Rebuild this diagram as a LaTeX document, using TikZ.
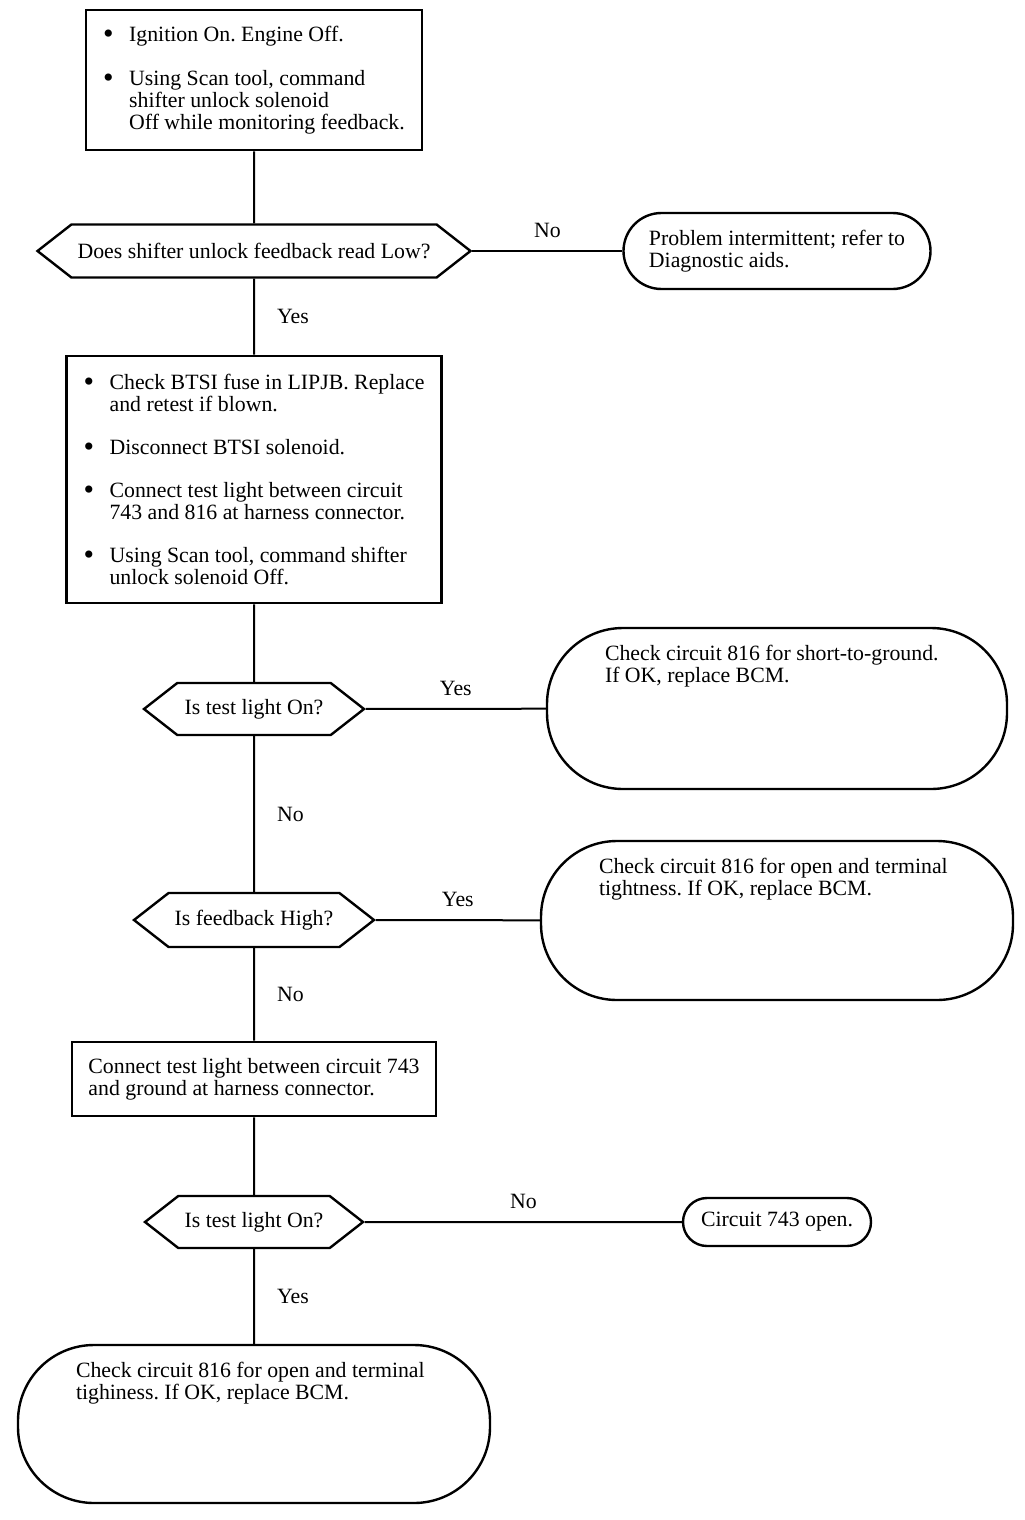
\documentclass[tikz,border=0pt]{standalone}
\usepackage{fontspec}
\setmainfont{Liberation Serif}
\usetikzlibrary{shapes.misc,shapes.symbols}
\frenchspacing
\newcommand\bul{\makebox[13pt][l]{\raisebox{-1.2pt}{\fontsize{15}{11}\selectfont\textbullet}}}
\newcommand\ind{\hspace*{13pt}}
\newcommand\topleft[3]{\parbox[c][#2][t]{#1}{\vspace*{8.5pt}#3}}
\tikzset{
  txt/.style={font=\fontsize{10.9}{11}\selectfont},
  flow/.style={line width=1pt},
  stepbox/.style={txt, draw, line width=1.3pt, align=left, inner sep=0pt},
  ask/.style={txt, draw, line width=1.2pt, signal, signal to=west and east,
    signal pointer angle=76, inner sep=2pt},
  endsmall/.style={txt, draw, line width=1.2pt, rounded rectangle, align=left, inner sep=2pt},
  endbig/.style={txt, draw, line width=1.2pt, rounded corners=38pt, inner sep=0pt},
  answer/.style={txt, inner sep=2pt}
}
\begin{document}
\begin{tikzpicture}[x=0.5pt,y=-0.5pt]
   \useasboundingbox (0,0) rectangle (1024,1520);
   % main column
   \node[stepbox, minimum width=168pt, minimum height=70pt] (check1) at (254,80)
      {\bul Ignition On. Engine Off.\\[11pt]
       \bul Using Scan tool, command\\
       \ind shifter unlock solenoid\\
       \ind Off while monitoring feedback.};
   \node[ask, minimum width=216.5pt, minimum height=26.5pt] (low) at (254,251)
      {Does shifter unlock feedback read Low?};
   \node[stepbox, minimum width=187.5pt, minimum height=123.5pt] (check2) at (254,479.5)
      {\bul Check BTSI fuse in LIPJB. Replace\\
       \ind and retest if blown.\\[10.5pt]
       \bul Disconnect BTSI solenoid.\\[10.5pt]
       \bul Connect test light between circuit\\
       \ind 743 and 816 at harness connector.\\[10.5pt]
       \bul Using Scan tool, command shifter\\
       \ind unlock solenoid Off.};
   \node[ask, minimum width=110pt, minimum height=26pt] (light1) at (254,709)
      {Is test light On?};
   \node[ask, minimum width=120pt, minimum height=27pt] (high) at (254,920)
      {Is feedback High?};
   \node[stepbox, minimum width=182pt, minimum height=37pt] (check3) at (254,1079)
      {Connect test light between circuit 743\\
       and ground at harness connector.};
   \node[ask, minimum width=109pt, minimum height=26pt] (light2) at (254,1222)
      {Is test light On?};
   \node[endbig, minimum width=236pt, minimum height=79pt] (open2) at (254,1424)
      {\topleft{178pt}{79pt}{Check circuit 816 for open and terminal\\
       tighiness. If OK, replace BCM.}};
   % right column
   \node[endsmall, minimum width=157.5pt, minimum height=38pt] (intermit) at (777,251)
      {Problem intermittent; refer to\\Diagnostic aids.};
   \node[endbig, minimum width=230pt, minimum height=80.5pt] (short) at (777,708.5)
      {\topleft{172pt}{80.5pt}{Check circuit 816 for short-to-ground.\\
       If OK, replace BCM.}};
   \node[endbig, minimum width=236pt, minimum height=79.5pt] (open1) at (777,920.5)
      {\topleft{178pt}{79.5pt}{Check circuit 816 for open and terminal\\
       tightness. If OK, replace BCM.}};
   \node[endsmall, minimum width=98pt, minimum height=24pt] (c743) at (777,1222)
      {Circuit 743 open.};
   % connectors
   \draw[flow] (check1) -- (low);
   \draw[flow] (low) -- node[answer, above=4pt] {No} (intermit);
   \draw[flow] (low) -- node[answer, right=9pt] {Yes} (check2);
   \draw[flow] (check2) -- (light1);
   \draw[flow] (light1) -- node[answer, above=4pt] {Yes} (short);
   \draw[flow] (light1) -- node[answer, right=9pt] {No} (high);
   \draw[flow] (high) -- node[answer, above=4pt] {Yes} (open1);
   \draw[flow] (high) -- node[answer, right=9pt] {No} (check3);
   \draw[flow] (check3) -- (light2);
   \draw[flow] (light2) -- node[answer, above=4pt] {No} (c743);
   \draw[flow] (light2) -- node[answer, right=9pt] {Yes} (open2);
\end{tikzpicture}
\end{document}
